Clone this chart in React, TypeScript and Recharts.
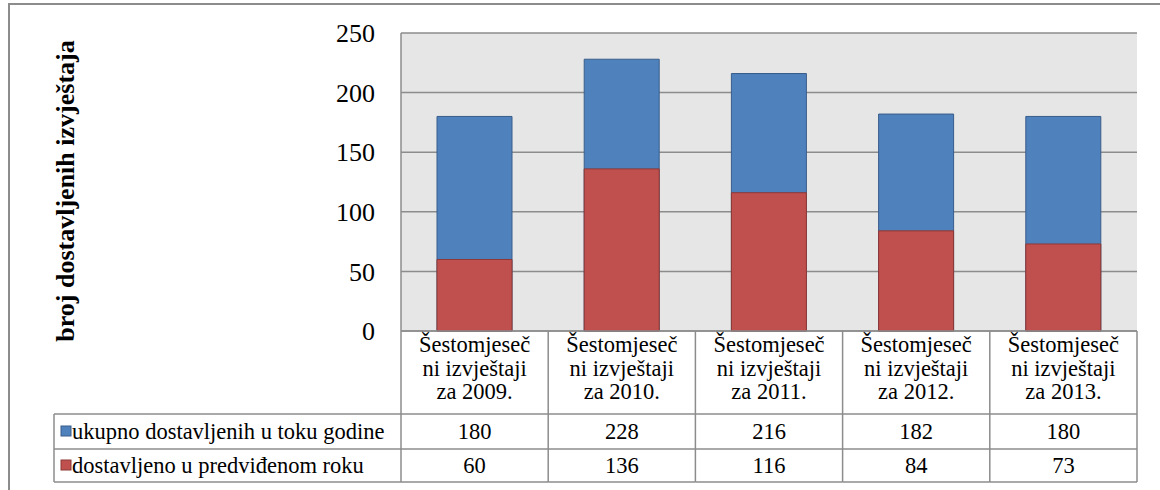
import React from "react";
import { BarChart, Bar, XAxis, YAxis, CartesianGrid } from "recharts";

const categoryLabels = [
  "Šestomjeseč\nni izvještaji\nza 2009.",
  "Šestomjeseč\nni izvještaji\nza 2010.",
  "Šestomjeseč\nni izvještaji\nza 2011.",
  "Šestomjeseč\nni izvještaji\nza 2012.",
  "Šestomjeseč\nni izvještaji\nza 2013.",
];
const totalDelivered = [180, 228, 216, 182, 180];
const deliveredOnTime = [60, 136, 116, 84, 73];
const seriesNames = ["ukupno dostavljenih u toku godine", "dostavljeno u predviđenom roku"];
const yTicks = [0, 50, 100, 150, 200, 250];
const yTitle = "broj dostavljenih izvještaja";

const data = categoryLabels.map((label, i) => ({
  label,
  total: totalDelivered[i],
  onTime: deliveredOnTime[i],
}));

const W = 1160;
const H = 490;
const PLOT_LEFT = 401;
const PLOT_RIGHT = 1137;
const PLOT_TOP = 33;
const PLOT_BOTTOM = 331;
const BAND = (PLOT_RIGHT - PLOT_LEFT) / categoryLabels.length;
const LINE = "#8c8c8c";
const FONT = "'Liberation Serif', 'Times New Roman', serif";
const BLUE = "#4F81BD";
const BLUE_S = "#385D8A";
const RED = "#C0504D";
const RED_S = "#8C3836";

const ROW1 = 83;
const ROW2 = 118;
const ROW3 = 151;
const LEGEND_LEFT = 54;

const textStyle: React.CSSProperties = { fontFamily: FONT, fontSize: 22.5, fill: "#000" };

const TableTick = (props: any) => {
  const { x, y, payload } = props;
  const i = payload.index;
  const left = x - BAND / 2;
  const right = x + BAND / 2;
  const lines = String(payload.value).split("\n");
  const values = [totalDelivered[i], deliveredOnTime[i]];
  return (
    <g>
      <line x1={right} y1={y} x2={right} y2={y + ROW3} stroke={LINE} strokeWidth={1.5} />
      <line x1={left} y1={y + ROW1} x2={right} y2={y + ROW1} stroke={LINE} strokeWidth={1.5} />
      <line x1={left} y1={y + ROW2} x2={right} y2={y + ROW2} stroke={LINE} strokeWidth={1.5} />
      <line x1={left} y1={y + ROW3} x2={right} y2={y + ROW3} stroke={LINE} strokeWidth={1.5} />
      <text textAnchor="middle" style={textStyle}>
        {lines.map((l, k) => (
          <tspan key={k} x={x} y={y + 21 + k * 23.5}>
            {l}
          </tspan>
        ))}
      </text>
      <text x={x} y={y + 108} textAnchor="middle" style={textStyle}>
        {values[0]}
      </text>
      <text x={x} y={y + 142} textAnchor="middle" style={textStyle}>
        {values[1]}
      </text>
      {i === 0 && (
        <g>
          <line x1={left} y1={y} x2={left} y2={y + ROW3} stroke={LINE} strokeWidth={1.5} />
          <line x1={LEGEND_LEFT} y1={y + ROW1} x2={left} y2={y + ROW1} stroke={LINE} strokeWidth={1.5} />
          <line x1={LEGEND_LEFT} y1={y + ROW2} x2={left} y2={y + ROW2} stroke={LINE} strokeWidth={1.5} />
          <line x1={LEGEND_LEFT} y1={y + ROW3} x2={left} y2={y + ROW3} stroke={LINE} strokeWidth={1.5} />
          <line x1={LEGEND_LEFT} y1={y + ROW1} x2={LEGEND_LEFT} y2={y + ROW3} stroke={LINE} strokeWidth={1.5} />
          <rect x={61} y={y + 95} width={10} height={10} fill={BLUE} stroke={BLUE_S} />
          <text x={72} y={y + 108} style={textStyle}>
            {seriesNames[0]}
          </text>
          <rect x={61} y={y + 129} width={10} height={10} fill={RED} stroke={RED_S} />
          <text x={72} y={y + 142} style={textStyle}>
            {seriesNames[1]}
          </text>
        </g>
      )}
    </g>
  );
};

const YTitle = (props: any) => {
  const vb = props.viewBox || { x: 0, y: PLOT_TOP, width: PLOT_LEFT, height: PLOT_BOTTOM - PLOT_TOP };
  const cx = vb.x + 74;
  const cy = vb.y + vb.height / 2 + 9;
  return (
    <text
      x={cx}
      y={cy}
      transform={`rotate(-90, ${cx}, ${cy})`}
      textAnchor="middle"
      style={{ fontFamily: FONT, fontSize: 26, fontWeight: "bold", fill: "#000" }}
    >
      {yTitle}
    </text>
  );
};

export default function App() {
  return (
    <div style={{ position: "absolute", left: 0, top: 0, width: W, height: H, background: "#fff" }}>
      <div
        style={{
          position: "absolute",
          left: 8,
          top: 3,
          width: W - 8,
          height: H - 3,
          borderLeft: `2px solid ${LINE}`,
          borderTop: `2px solid ${LINE}`,
          boxSizing: "border-box",
        }}
      />
      <div style={{ position: "absolute", left: 0, top: 0 }}>
        <BarChart
          width={W}
          height={H}
          data={data}
          margin={{ top: PLOT_TOP, right: W - PLOT_RIGHT, bottom: 0, left: 0 }}
        >
          <CartesianGrid vertical={false} fill="#E6E6E6" stroke={LINE} strokeWidth={1.5} />
          <XAxis
            xAxisId="a"
            dataKey="label"
            height={H - PLOT_BOTTOM}
            interval={0}
            tickLine={false}
            tickSize={0}
            tickMargin={0}
            axisLine={{ stroke: LINE, strokeWidth: 1.5 }}
            tick={<TableTick />}
          />
          <XAxis xAxisId="b" dataKey="label" hide />
          <YAxis
            width={PLOT_LEFT}
            domain={[0, 250]}
            ticks={yTicks}
            interval={0}
            tickLine={false}
            tickSize={0}
            tickMargin={26}
            axisLine={{ stroke: LINE, strokeWidth: 1.5 }}
            tick={{ fontSize: 26, fontFamily: FONT, fill: "#000" }}
            label={<YTitle />}
          />
          <Bar
            xAxisId="b"
            dataKey="total"
            name={seriesNames[0]}
            fill={BLUE}
            stroke={BLUE_S}
            strokeWidth={1}
            barSize={75}
            isAnimationActive={false}
          />
          <Bar
            xAxisId="a"
            dataKey="onTime"
            name={seriesNames[1]}
            fill={RED}
            stroke={RED_S}
            strokeWidth={1}
            barSize={75}
            isAnimationActive={false}
          />
        </BarChart>
      </div>
    </div>
  );
}
